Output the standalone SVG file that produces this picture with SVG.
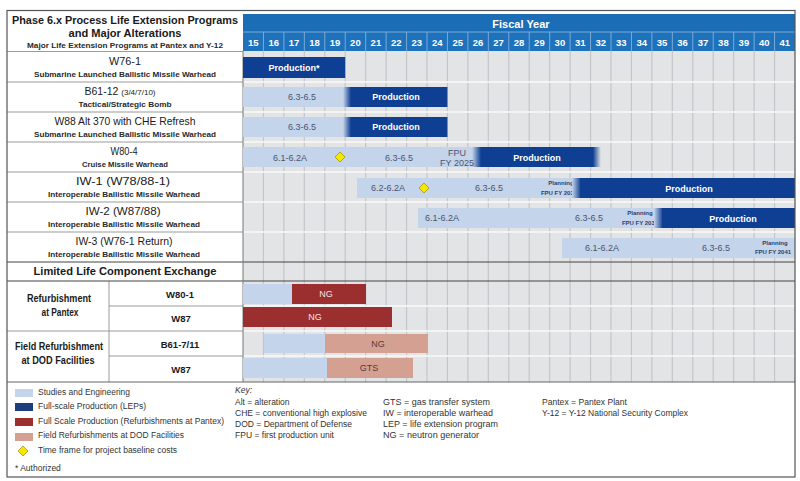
<svg xmlns="http://www.w3.org/2000/svg" width="800" height="481" viewBox="0 0 800 481">
<defs>
<style>
text{font-family:"Liberation Sans",Arial,sans-serif}
.ttl{font-size:11.5px;font-weight:bold;fill:#1a1a1a;text-anchor:middle}
.sub{font-size:8px;font-weight:bold;fill:#2a2a2a;text-anchor:middle}
.rl{font-size:10.5px;fill:#1a1a1a;text-anchor:middle}
.rlb{font-size:10.5px;font-weight:bold;fill:#1a1a1a;text-anchor:middle}
.yr{font-size:9.5px;font-weight:bold;fill:#fff;text-anchor:middle}
.bt{font-size:9px;font-weight:bold;fill:#fff;text-anchor:middle}
.gt{font-size:9px;fill:#4a5570;text-anchor:middle}
.pl{font-size:6px;font-weight:bold;fill:#2d3f6a;text-anchor:middle}
.rt{font-size:9px;fill:#f3e3e3;text-anchor:middle}
.pt{font-size:9px;fill:#5a3a34;text-anchor:middle}
.lg{font-size:8.5px;fill:#333}
.light{fill:#c4d4eb}
.dark{fill:#0f3f92}
.red{fill:#9b2f2f}
.pink{fill:#d3a092}
.dia{fill:#f7e600;stroke:#a89a00;stroke-width:0.8}
.vl{stroke:#c4c6c9;stroke-width:1.2}
.hl{stroke:#fafafa;stroke-width:1.6}
.sep{stroke:#9a9a9a;stroke-width:1}
</style>
<linearGradient id="fd" x1="0" y1="0" x2="1" y2="0"><stop offset="0" stop-color="#c4d4eb"/><stop offset="1" stop-color="#0f3f92"/></linearGradient>
<linearGradient id="fe" x1="0" y1="0" x2="1" y2="0"><stop offset="0" stop-color="#0f3f92"/><stop offset="1" stop-color="#0f3f92" stop-opacity="0"/></linearGradient>
</defs>
<rect width="800" height="481" fill="#fff"/>

<g id="grid">
<rect x="243" y="51" width="552" height="331" fill="#e3e4e6"/>
<g class="vl">
<line x1="263.44" y1="51" x2="263.44" y2="382"/><line x1="283.89" y1="51" x2="283.89" y2="382"/><line x1="304.33" y1="51" x2="304.33" y2="382"/><line x1="324.78" y1="51" x2="324.78" y2="382"/><line x1="345.22" y1="51" x2="345.22" y2="382"/><line x1="365.67" y1="51" x2="365.67" y2="382"/><line x1="386.11" y1="51" x2="386.11" y2="382"/><line x1="406.56" y1="51" x2="406.56" y2="382"/><line x1="427" y1="51" x2="427" y2="382"/><line x1="447.44" y1="51" x2="447.44" y2="382"/><line x1="467.89" y1="51" x2="467.89" y2="382"/><line x1="488.33" y1="51" x2="488.33" y2="382"/><line x1="508.78" y1="51" x2="508.78" y2="382"/><line x1="529.22" y1="51" x2="529.22" y2="382"/><line x1="549.67" y1="51" x2="549.67" y2="382"/><line x1="570.11" y1="51" x2="570.11" y2="382"/><line x1="590.56" y1="51" x2="590.56" y2="382"/><line x1="611" y1="51" x2="611" y2="382"/><line x1="631.44" y1="51" x2="631.44" y2="382"/><line x1="651.89" y1="51" x2="651.89" y2="382"/><line x1="672.33" y1="51" x2="672.33" y2="382"/><line x1="692.78" y1="51" x2="692.78" y2="382"/><line x1="713.22" y1="51" x2="713.22" y2="382"/><line x1="733.67" y1="51" x2="733.67" y2="382"/><line x1="754.11" y1="51" x2="754.11" y2="382"/><line x1="774.56" y1="51" x2="774.56" y2="382"/>
</g>
<g class="hl">
<line x1="243" y1="82" x2="795" y2="82"/><line x1="243" y1="112" x2="795" y2="112"/><line x1="243" y1="142" x2="795" y2="142"/><line x1="243" y1="172" x2="795" y2="172"/><line x1="243" y1="202" x2="795" y2="202"/><line x1="243" y1="232" x2="795" y2="232"/><line x1="243" y1="306" x2="795" y2="306"/><line x1="243" y1="331" x2="795" y2="331"/><line x1="243" y1="356" x2="795" y2="356"/>
</g>
</g>

<g id="header">
<rect x="243" y="14" width="552" height="18" fill="#1b6db5"/>
<text x="521" y="28" style="font-size:11px;font-weight:bold;fill:#fff;text-anchor:middle">Fiscal Year</text>
<rect x="243" y="32" width="552" height="19" fill="#1e72bc"/>
<g stroke="#79a9d8" stroke-width="1">
<line x1="243" y1="32" x2="795" y2="32"/>
<line x1="263.44" y1="32" x2="263.44" y2="51"/><line x1="283.89" y1="32" x2="283.89" y2="51"/><line x1="304.33" y1="32" x2="304.33" y2="51"/><line x1="324.78" y1="32" x2="324.78" y2="51"/><line x1="345.22" y1="32" x2="345.22" y2="51"/><line x1="365.67" y1="32" x2="365.67" y2="51"/><line x1="386.11" y1="32" x2="386.11" y2="51"/><line x1="406.56" y1="32" x2="406.56" y2="51"/><line x1="427" y1="32" x2="427" y2="51"/><line x1="447.44" y1="32" x2="447.44" y2="51"/><line x1="467.89" y1="32" x2="467.89" y2="51"/><line x1="488.33" y1="32" x2="488.33" y2="51"/><line x1="508.78" y1="32" x2="508.78" y2="51"/><line x1="529.22" y1="32" x2="529.22" y2="51"/><line x1="549.67" y1="32" x2="549.67" y2="51"/><line x1="570.11" y1="32" x2="570.11" y2="51"/><line x1="590.56" y1="32" x2="590.56" y2="51"/><line x1="611" y1="32" x2="611" y2="51"/><line x1="631.44" y1="32" x2="631.44" y2="51"/><line x1="651.89" y1="32" x2="651.89" y2="51"/><line x1="672.33" y1="32" x2="672.33" y2="51"/><line x1="692.78" y1="32" x2="692.78" y2="51"/><line x1="713.22" y1="32" x2="713.22" y2="51"/><line x1="733.67" y1="32" x2="733.67" y2="51"/><line x1="754.11" y1="32" x2="754.11" y2="51"/><line x1="774.56" y1="32" x2="774.56" y2="51"/>
</g>
<g class="yr">
<text x="253.2" y="46">15</text><text x="273.7" y="46">16</text><text x="294.1" y="46">17</text><text x="314.6" y="46">18</text><text x="335" y="46">19</text><text x="355.4" y="46">20</text><text x="375.9" y="46">21</text><text x="396.3" y="46">22</text><text x="416.8" y="46">23</text><text x="437.2" y="46">24</text><text x="457.7" y="46">25</text><text x="478.1" y="46">26</text><text x="498.6" y="46">27</text><text x="519" y="46">28</text><text x="539.4" y="46">29</text><text x="559.9" y="46">30</text><text x="580.3" y="46">31</text><text x="600.8" y="46">32</text><text x="621.2" y="46">33</text><text x="641.7" y="46">34</text><text x="662.1" y="46">35</text><text x="682.6" y="46">36</text><text x="703" y="46">37</text><text x="723.4" y="46">38</text><text x="743.9" y="46">39</text><text x="764.3" y="46">40</text><text x="784.8" y="46">41</text>
</g>
<text class="ttl" x="125" y="23.5" textLength="226" lengthAdjust="spacingAndGlyphs">Phase 6.x Process Life Extension Programs</text>
<text class="ttl" x="125" y="36.5" textLength="113" lengthAdjust="spacingAndGlyphs">and Major Alterations</text>
<text class="sub" x="125" y="48" textLength="196" lengthAdjust="spacingAndGlyphs">Major Life Extension Programs at Pantex and Y-12</text>
</g>

<g id="labels">
<g class="sep">
<line x1="7" y1="51.5" x2="243" y2="51.5"/><line x1="7" y1="82" x2="243" y2="82"/><line x1="7" y1="112" x2="243" y2="112"/><line x1="7" y1="142" x2="243" y2="142"/><line x1="7" y1="172" x2="243" y2="172"/><line x1="7" y1="202" x2="243" y2="202"/><line x1="7" y1="232" x2="243" y2="232"/>
<line x1="109" y1="306" x2="243" y2="306"/><line x1="7" y1="331" x2="243" y2="331"/><line x1="109" y1="356" x2="243" y2="356"/>
<line x1="109" y1="281" x2="109" y2="382"/>
</g>
<line x1="7" y1="262" x2="795" y2="262" stroke="#444" stroke-width="1.2"/>
<line x1="7" y1="281" x2="795" y2="281" stroke="#444" stroke-width="1.2"/>
<line x1="7" y1="382" x2="795" y2="382" stroke="#666" stroke-width="1"/>
<line x1="243" y1="51" x2="243" y2="382" stroke="#777" stroke-width="1"/>
</g>

<g id="row-w76">
<text class="rl" x="125" y="65" textLength="32" lengthAdjust="spacingAndGlyphs">W76-1</text>
<text class="sub" x="125" y="77" textLength="182" lengthAdjust="spacingAndGlyphs">Submarine Launched Ballistic Missile Warhead</text>
<rect class="dark" x="243" y="57" width="102.2" height="21"/>
<text class="bt" x="294" y="71">Production*</text>
</g>

<g id="row-b61-12">
<text class="rl" x="120" y="95">B61-12 <tspan style="font-size:8px">(3/4/7/10)</tspan></text>
<text class="sub" x="125" y="107" textLength="93" lengthAdjust="spacingAndGlyphs">Tactical/Strategic Bomb</text>
<rect class="light" x="243" y="87" width="103" height="20"/>
<rect class="dark" x="346" y="87" width="101.4" height="20"/>
<rect x="343" y="87" width="8" height="20" fill="url(#fd)"/>
<text class="gt" x="302" y="100">6.3-6.5</text>
<text class="bt" x="396" y="100">Production</text>
</g>

<g id="row-w88">
<text class="rl" x="125" y="125" textLength="141" lengthAdjust="spacingAndGlyphs">W88 Alt 370 with CHE Refresh</text>
<text class="sub" x="125" y="137" textLength="182" lengthAdjust="spacingAndGlyphs">Submarine Launched Ballistic Missile Warhead</text>
<rect class="light" x="243" y="117" width="103" height="20"/>
<rect class="dark" x="346" y="117" width="101.4" height="20"/>
<rect x="343" y="117" width="8" height="20" fill="url(#fd)"/>
<text class="gt" x="302" y="130">6.3-6.5</text>
<text class="bt" x="396" y="130">Production</text>
</g>

<g id="row-w80-4">
<text class="rl" x="124" y="155" textLength="27" lengthAdjust="spacingAndGlyphs">W80-4</text>
<text class="sub" x="125" y="167" textLength="86" lengthAdjust="spacingAndGlyphs">Cruise Missile Warhead</text>
<rect class="light" x="243" y="147" width="233" height="20"/>
<rect class="dark" x="476" y="147" width="117" height="20"/>
<rect x="472" y="147" width="9" height="20" fill="url(#fd)"/>
<rect x="593" y="147" width="8" height="20" fill="url(#fe)"/>
<text class="gt" x="290" y="161">6.1-6.2A</text>
<polygon class="dia" points="340,152 345,157 340,162 335,157"/>
<text class="gt" x="399" y="161">6.3-6.5</text>
<text class="gt" x="457" y="156">FPU</text>
<text class="gt" x="457" y="165.5">FY 2025</text>
<text class="bt" x="537" y="161">Production</text>
</g>

<g id="row-iw1">
<text class="rl" x="123" y="185" textLength="94" lengthAdjust="spacingAndGlyphs">IW-1 (W78/88-1)</text>
<text class="sub" x="124" y="197" textLength="152" lengthAdjust="spacingAndGlyphs">Interoperable Ballistic Missile Warhead</text>
<rect class="light" x="357" y="178" width="220" height="20"/>
<text class="gt" x="388" y="191">6.2-6.2A</text>
<polygon class="dia" points="424,183 429,188 424,193 419,188"/>
<text class="gt" x="489" y="191">6.3-6.5</text>
<text class="pl" x="561" y="185">Planning</text>
<text class="pl" x="559" y="195">FPU FY 2030</text>
<rect x="572" y="178" width="9" height="20" fill="url(#fd)"/>
<rect class="dark" x="580" y="178" width="215" height="20"/>
<text class="bt" x="689" y="192">Production</text>
</g>

<g id="row-iw2">
<text class="rl" x="123" y="215" textLength="75" lengthAdjust="spacingAndGlyphs">IW-2 (W87/88)</text>
<text class="sub" x="124" y="227" textLength="152" lengthAdjust="spacingAndGlyphs">Interoperable Ballistic Missile Warhead</text>
<rect class="light" x="418" y="208" width="240" height="20"/>
<text class="gt" x="442" y="221">6.1-6.2A</text>
<text class="gt" x="589" y="221">6.3-6.5</text>
<text class="pl" x="640" y="215">Planning</text>
<text class="pl" x="640" y="225">FPU FY 2034</text>
<rect x="654" y="208" width="9" height="20" fill="url(#fd)"/>
<rect class="dark" x="662" y="208" width="133" height="20"/>
<text class="bt" x="733" y="222">Production</text>
</g>

<g id="row-iw3">
<text class="rl" x="124" y="245" textLength="97" lengthAdjust="spacingAndGlyphs">IW-3 (W76-1 Return)</text>
<text class="sub" x="124" y="257" textLength="152" lengthAdjust="spacingAndGlyphs">Interoperable Ballistic Missile Warhead</text>
<rect class="light" x="562" y="238" width="233" height="20"/>
<text class="gt" x="602" y="251">6.1-6.2A</text>
<text class="gt" x="716" y="251">6.3-6.5</text>
<text class="pl" x="775" y="245">Planning</text>
<text class="pl" x="773" y="254">FPU FY 2041</text>
</g>

<g id="llce">
<text class="rlb" x="125" y="275" textLength="183" lengthAdjust="spacingAndGlyphs">Limited Life Component Exchange</text>
</g>

<g id="refurb-pantex">
<text class="rlb" x="59" y="302" textLength="64" lengthAdjust="spacingAndGlyphs">Refurbishment</text>
<text class="rlb" x="60" y="316" textLength="37" lengthAdjust="spacingAndGlyphs">at Pantex</text>
<text class="rlb" x="180" y="298" style="font-size:9.5px">W80-1</text>
<text class="rlb" x="181" y="322" style="font-size:9.5px">W87</text>
<rect class="light" x="243" y="284" width="49" height="20"/>
<rect class="red" x="292" y="284" width="74" height="20"/>
<text class="rt" x="326" y="297">NG</text>
<rect class="red" x="243" y="307" width="149" height="20"/>
<text class="rt" x="315" y="320">NG</text>
</g>

<g id="refurb-dod">
<text class="rlb" x="59" y="350" textLength="88" lengthAdjust="spacingAndGlyphs">Field Refurbishment</text>
<text class="rlb" x="58" y="364" textLength="73" lengthAdjust="spacingAndGlyphs">at DOD Facilities</text>
<text class="rlb" x="180" y="348" style="font-size:9.5px">B61-7/11</text>
<text class="rlb" x="181" y="373" style="font-size:9.5px">W87</text>
<rect class="light" x="264" y="334" width="61" height="19"/>
<rect class="pink" x="325" y="334" width="103" height="19"/>
<text class="pt" x="378" y="347">NG</text>
<rect class="light" x="243" y="358" width="84" height="20"/>
<rect class="pink" x="327" y="358" width="86" height="20"/>
<text class="pt" x="369" y="371">GTS</text>
</g>

<g id="legend">
<rect x="15" y="389" width="18" height="8" fill="#c4d4eb"/>
<rect x="15" y="403" width="18" height="8" fill="#1d3d7c"/>
<rect x="15" y="418" width="18" height="8" fill="#9b2f2f"/>
<rect x="15" y="433" width="18" height="8" fill="#d3a092"/>
<polygon class="dia" points="23,446 28,451 23,456 18,451"/>
<text class="lg" x="38" y="395" textLength="92" lengthAdjust="spacingAndGlyphs">Studies and Engineering</text>
<text class="lg" x="38" y="409" textLength="108" lengthAdjust="spacingAndGlyphs">Full-scale Production (LEPs)</text>
<text class="lg" x="38" y="424" textLength="186" lengthAdjust="spacingAndGlyphs">Full Scale Production (Refurbishments at Pantex)</text>
<text class="lg" x="38" y="438" textLength="146" lengthAdjust="spacingAndGlyphs">Field Refurbishments at DOD Facilities</text>
<text class="lg" x="38" y="453" textLength="139" lengthAdjust="spacingAndGlyphs">Time frame for project baseline costs</text>
<text class="lg" x="15" y="471">* Authorized</text>
<text class="lg" x="235" y="393" style="font-style:italic">Key:</text>
<text class="lg" x="235" y="405">Alt = alteration</text>
<text class="lg" x="235" y="416" textLength="132" lengthAdjust="spacingAndGlyphs">CHE = conventional high explosive</text>
<text class="lg" x="235" y="426.5" textLength="117" lengthAdjust="spacingAndGlyphs">DOD = Department of Defense</text>
<text class="lg" x="235" y="437.5" textLength="99" lengthAdjust="spacingAndGlyphs">FPU = first production unit</text>
<text class="lg" x="383" y="405" textLength="107" lengthAdjust="spacingAndGlyphs">GTS = gas transfer system</text>
<text class="lg" x="383" y="416" textLength="110" lengthAdjust="spacingAndGlyphs">IW = interoperable warhead</text>
<text class="lg" x="383" y="426.5" textLength="115" lengthAdjust="spacingAndGlyphs">LEP = life extension program</text>
<text class="lg" x="383" y="437.5" textLength="96" lengthAdjust="spacingAndGlyphs">NG = neutron generator</text>
<text class="lg" x="542" y="405" textLength="85" lengthAdjust="spacingAndGlyphs">Pantex = Pantex Plant</text>
<text class="lg" x="542" y="416" textLength="146" lengthAdjust="spacingAndGlyphs">Y-12 = Y-12 National Security Complex</text>
</g>

<rect id="frame" x="7" y="10.5" width="788" height="466.5" fill="none" stroke="#555" stroke-width="1.2"/>
</svg>
